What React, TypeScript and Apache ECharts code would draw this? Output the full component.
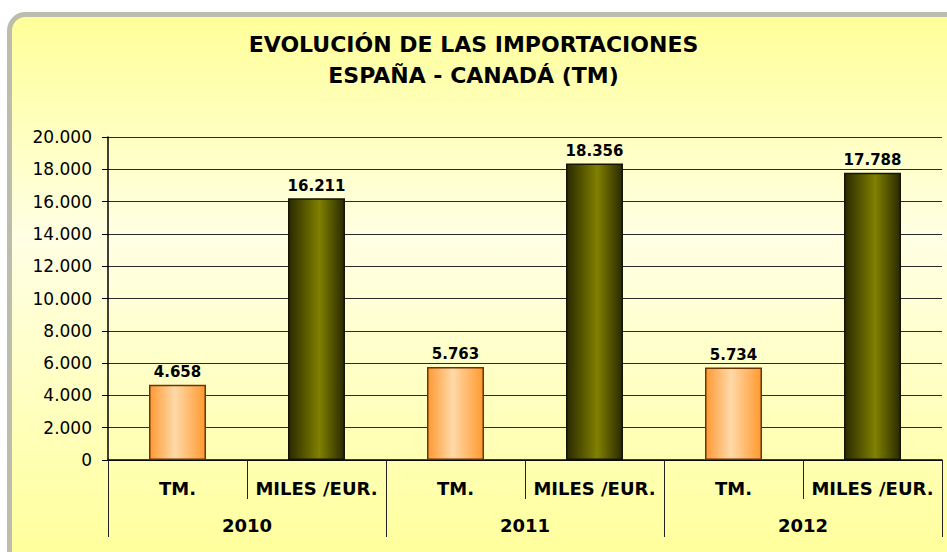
import React, { useEffect, useRef } from "react";
import * as echarts from "echarts";

const titleLines = ["EVOLUCIÓN DE LAS IMPORTACIONES", "ESPAÑA - CANADÁ (TM)"];
const years = ["2010", "2011", "2012"];
const measures = ["TM.", "MILES /EUR."];
const tmValues = [4658, 5763, 5734];
const milesValues = [16211, 18356, 17788];
const yMin = 0;
const yMax = 20000;
const yStep = 2000;

const fmt = (v: number) => {
  const s = Math.round(v).toString();
  return s.replace(/\B(?=(\d{3})+(?!\d))/g, ".");
};

const orangeGrad = new echarts.graphic.LinearGradient(0, 0, 1, 0, [
  { offset: 0, color: "#ff9933" },
  { offset: 0.45, color: "#ffd9a8" },
  { offset: 1, color: "#ff9a30" },
]);
const oliveGrad = new echarts.graphic.LinearGradient(0, 0, 1, 0, [
  { offset: 0, color: "#2a2a00" },
  { offset: 0.55, color: "#808000" },
  { offset: 1, color: "#2a2a00" },
]);

export default function App() {
  const ref = useRef<HTMLDivElement>(null);
  useEffect(() => {
    if (!ref.current) return;
    const chart = echarts.init(ref.current, null, { renderer: "svg" });

    const subCats: string[] = [];
    const barData: any[] = [];
    years.forEach((_, i) => {
      subCats.push(measures[0]);
      barData.push({
        value: tmValues[i],
        itemStyle: { color: orangeGrad, borderColor: "#6b3500", borderWidth: 1.5 },
      });
      subCats.push(measures[1]);
      barData.push({
        value: milesValues[i],
        itemStyle: { color: oliveGrad, borderColor: "#141400", borderWidth: 1.5 },
      });
    });

    const font = "DejaVu Sans";

    chart.setOption({
      animation: false,
      backgroundColor: "#ffffff",
      graphic: [
        {
          type: "rect",
          z: -10,
          silent: true,
          shape: { x: 9.5, y: 14.5, width: 960, height: 560, r: 16 },
          style: {
            fill: new echarts.graphic.LinearGradient(0, 0, 0, 1, [
              { offset: 0, color: "#ffff99" },
              { offset: 0.4, color: "#ffffe4" },
              { offset: 1, color: "#ffff99" },
            ]),
            stroke: "#bdbdae",
            lineWidth: 5,
          },
        },
        {
          type: "text",
          left: "center",
          top: 29,
          style: {
            text: titleLines.join("\n"),
            font: `bold 22px ${font}`,
            fill: "#000",
            textAlign: "center",
            lineHeight: 31,
          },
        },
      ],
      grid: { left: 108, right: 5, top: 137, bottom: 92, containLabel: false },
      xAxis: [
        {
          type: "category",
          data: subCats,
          position: "bottom",
          axisLine: { show: true, lineStyle: { color: "#000", width: 1.5 } },
          axisTick: { show: true, interval: 0, length: 39, lineStyle: { color: "#222", width: 1 } },
          axisLabel: {
            interval: 0,
            margin: 19,
            color: "#000",
            fontFamily: font,
            fontWeight: "bold",
            fontSize: 18,
          },
        },
        {
          type: "category",
          data: years,
          position: "bottom",
          axisLine: { show: false },
          axisTick: { show: true, interval: 0, length: 77, lineStyle: { color: "#222", width: 1 } },
          axisLabel: {
            interval: 0,
            margin: 56,
            color: "#000",
            fontFamily: font,
            fontWeight: "bold",
            fontSize: 18,
          },
        },
      ],
      yAxis: {
        type: "value",
        min: yMin,
        max: yMax,
        interval: yStep,
        axisLine: { show: true, lineStyle: { color: "#000", width: 1.5 } },
        axisTick: { show: true, length: 6, lineStyle: { color: "#000" } },
        axisLabel: {
          margin: 16,
          color: "#000",
          fontFamily: font,
          fontSize: 17,
          formatter: (v: number) => fmt(v),
        },
        splitLine: { show: true, lineStyle: { color: "#2a2a2a", width: 1 } },
      },
      series: [
        {
          type: "bar",
          xAxisIndex: 0,
          data: barData,
          barWidth: "41%",
          label: {
            show: true,
            position: "top",
            distance: 5,
            color: "#000",
            fontFamily: font,
            fontWeight: "bold",
            fontSize: 15,
            formatter: (p: any) => fmt(p.value),
          },
        },
      ],
    });
    return () => chart.dispose();
  }, []);
  return (
    <div
      ref={ref}
      style={{ position: "fixed", left: 0, top: 0, width: 947, height: 552 }}
    />
  );
}
